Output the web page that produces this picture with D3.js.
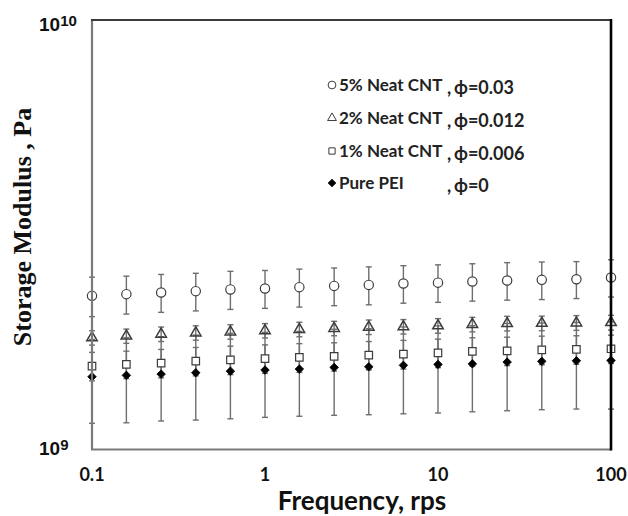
<!DOCTYPE html>
<html>
<head>
<meta charset="utf-8">
<script src="https://cdn.jsdelivr.net/npm/d3@7"></script>
<style>
  body { margin: 0; background: #fff; }
  svg { display: block; }
</style>
</head>
<body>
<svg id="chart" width="628" height="516"></svg>
<script>
// frequency (rps) and storage modulus, in units of 1e9 Pa
var freq = [0.1, 0.158, 0.251, 0.398, 0.631, 1, 1.58, 2.51, 3.98, 6.31, 10, 15.8, 25.1, 39.8, 63.1, 100];

var cnt5 = [2.279, 2.300, 2.321, 2.337, 2.359, 2.371, 2.388, 2.404, 2.417, 2.435, 2.446, 2.461, 2.475, 2.483, 2.492, 2.515];
var cnt5Err = [0.240, 0.233, 0.235, 0.235, 0.240, 0.240, 0.242, 0.242, 0.245, 0.244, 0.245, 0.246, 0.248, 0.249, 0.246, 0.250];

var cnt2 = [1.820, 1.837, 1.856, 1.869, 1.879, 1.891, 1.904, 1.914, 1.927, 1.932, 1.941, 1.955, 1.965, 1.967, 1.972, 1.975];
var cnt2Err = [0.070, 0.070, 0.072, 0.072, 0.073, 0.073, 0.074, 0.074, 0.075, 0.075, 0.076, 0.076, 0.077, 0.077, 0.078, 0.078];

var cnt1 = [1.564, 1.578, 1.589, 1.606, 1.617, 1.628, 1.638, 1.647, 1.658, 1.667, 1.679, 1.692, 1.697, 1.706, 1.710, 1.716];
var cnt1Err = [0.119, 0.116, 0.121, 0.122, 0.123, 0.124, 0.126, 0.125, 0.126, 0.128, 0.128, 0.128, 0.129, 0.130, 0.130, 0.130];

var pei = [1.477, 1.488, 1.498, 1.509, 1.522, 1.531, 1.539, 1.553, 1.558, 1.570, 1.578, 1.583, 1.598, 1.604, 1.609, 1.612];
var peiErr = [0.326, 0.334, 0.333, 0.338, 0.343, 0.343, 0.344, 0.352, 0.353, 0.359, 0.362, 0.359, 0.367, 0.366, 0.367, 0.370];

var seriesNames = ["5% Neat CNT", "2% Neat CNT", "1% Neat CNT", "Pure PEI"];
var phiValues = ["0.03", "0.012", "0.006", "0"];
var xTickVals = [0.1, 1, 10, 100];
var xTickText = ["0.1", "1", "10", "100"];

var svg = d3.select("#chart"),
  MARGINS = { top: 20, right: 17, bottom: 66.5, left: 92 },
  WIDTH = 628,
  HEIGHT = 516,
  xScale = d3.scaleLog().domain([0.1, 100]).range([MARGINS.left, WIDTH - MARGINS.right]),
  yScale = d3.scaleLog().domain([1e9, 1e10]).range([HEIGHT - MARGINS.bottom, MARGINS.top]);

var series = [
  { vals: cnt5, err: cnt5Err, shape: "circle" },
  { vals: cnt2, err: cnt2Err, shape: "triangle" },
  { vals: cnt1, err: cnt1Err, shape: "square" },
  { vals: pei, err: peiErr, shape: "diamond" }
];

function markerPath(shape, scale) {
  scale = scale || 1;
  if (shape === "circle") return d3.symbol().type(d3.symbolCircle).size(68 * scale)();
  if (shape === "triangle") return d3.symbol().type(d3.symbolTriangle).size(48 * scale)();
  if (shape === "square") return d3.symbol().type(d3.symbolSquare).size(56 * scale)();
  return d3.symbol().type(d3.symbolSquare).size(36 * scale)();
}

function styleMarker(sel, shape) {
  if (shape === "diamond") {
    sel.style("fill", "#000").style("stroke", "#000").style("stroke-width", 0.8);
  } else if (shape === "triangle") {
    sel.style("fill", "none").style("stroke", "#3c3c3c").style("stroke-width", 1.5);
  } else {
    sel.style("fill", "#fff").style("stroke", "#3c3c3c").style("stroke-width", 1.2);
  }
}

// error bars first, bottom series up
var bars = svg.append("g").attr("class", "errbars");
series.slice().reverse().forEach(function (s) {
  var pts = freq.map(function (f, i) {
    return { x: f, lo: (s.vals[i] - s.err[i]) * 1e9, hi: (s.vals[i] + s.err[i]) * 1e9 };
  });
  var g = bars.selectAll(null).data(pts).enter().append("g");
  g.append("line")
    .attr("x1", function (d) { return xScale(d.x); })
    .attr("x2", function (d) { return xScale(d.x); })
    .attr("y1", function (d) { return yScale(d.lo); })
    .attr("y2", function (d) { return yScale(d.hi); });
  ["lo", "hi"].forEach(function (k) {
    g.append("line")
      .attr("x1", function (d) { return xScale(d.x) - 3; })
      .attr("x2", function (d) { return xScale(d.x) + 3; })
      .attr("y1", function (d) { return yScale(d[k]); })
      .attr("y2", function (d) { return yScale(d[k]); });
  });
});
bars.selectAll("line").style("stroke", "#6e6e6e").style("stroke-width", 1.4);

// markers
series.forEach(function (s) {
  var m = svg.append("g").selectAll("path")
    .data(freq.map(function (f, i) { return { x: f, y: s.vals[i] * 1e9 }; }))
    .enter().append("path")
    .attr("d", markerPath(s.shape))
    .attr("transform", function (d) {
      return "translate(" + xScale(d.x) + "," + yScale(d.y) + ")" + (s.shape === "diamond" ? " rotate(45)" : "");
    });
  styleMarker(m, s.shape);
});

// frame
var x0 = xScale(0.1), x1 = xScale(100), y0 = yScale(1e9), y1 = yScale(1e10);
svg.append("line").attr("x1", x0).attr("x2", x0).attr("y1", y1).attr("y2", y0)
  .style("stroke", "#7a7a7a").style("stroke-width", 2.2);
svg.append("line").attr("x1", x0 - 1).attr("x2", x1).attr("y1", y0).attr("y2", y0)
  .style("stroke", "#7a7a7a").style("stroke-width", 2.2);
svg.append("line").attr("x1", x0 - 1).attr("x2", x1).attr("y1", y1).attr("y2", y1)
  .style("stroke", "#3a3a3a").style("stroke-width", 2);
svg.append("line").attr("x1", x1).attr("x2", x1).attr("y1", y1 - 1).attr("y2", y0 + 1)
  .style("stroke", "#000").style("stroke-width", 2.6);

// y tick labels (10^10, 10^9)
[[1e10, "10", "10", 11], [1e9, "10", "9", 5.5]].forEach(function (t) {
  var txt = svg.append("text")
    .attr("x", 39)
    .attr("y", yScale(t[0]) + t[3])
    .attr("font-family", "Liberation Sans, Arial, sans-serif")
    .attr("font-weight", "bold")
    .attr("font-size", 19)
    .attr("fill", "#111");
  txt.append("tspan").text(t[1]);
  txt.append("tspan").attr("dy", -5).attr("font-size", 15).text(t[2]);
});

// x tick labels
svg.selectAll(".xlab").data(xTickVals).enter().append("text")
  .attr("class", "xlab")
  .attr("x", function (d) { return xScale(d); })
  .attr("y", 481)
  .style("text-anchor", "middle")
  .style("font-family", "Lato, 'Open Sans', sans-serif")
  .style("font-weight", "bold")
  .style("font-size", "18px")
  .style("fill", "#111")
  .text(function (d, i) { return xTickText[i]; });

// axis titles
svg.append("text")
  .attr("x", 362)
  .attr("y", 510)
  .style("text-anchor", "middle")
  .style("font-family", "Lato, 'Open Sans', sans-serif")
  .style("font-weight", "bold")
  .style("font-size", "26px")
  .style("fill", "#111")
  .text("Frequency, rps");

svg.append("text")
  .attr("transform", "rotate(-90)")
  .attr("x", -227)
  .attr("y", 31)
  .style("text-anchor", "middle")
  .style("font-family", "'Liberation Serif', 'Times New Roman', serif")
  .style("font-weight", "bold")
  .style("font-size", "26px")
  .style("fill", "#111")
  .text("Storage Modulus , Pa");

// legend
var legendY = [85, 118, 151, 183];
seriesNames.forEach(function (name, i) {
  var s = series[i], ly = legendY[i];
  var mk = svg.append("path")
    .attr("d", markerPath(s.shape, 0.7))
    .attr("transform", "translate(332," + ly + ")" + (s.shape === "diamond" ? " rotate(45)" : ""));
  styleMarker(mk, s.shape);
  mk.style("stroke-width", 1);
  svg.append("text")
    .attr("x", 339).attr("y", ly + 6)
    .style("font-family", "Lato, 'Open Sans', sans-serif")
    .style("font-weight", "bold")
    .style("font-size", "17px")
    .style("fill", "#222")
    .text(name);
  var ph = svg.append("text")
    .attr("y", ly + 9)
    .style("font-family", "Lato, 'Open Sans', sans-serif")
    .style("font-weight", "bold")
    .style("font-size", "18px")
    .style("fill", "#222");
  ph.append("tspan").attr("x", 447).text(",");
  ph.append("tspan").attr("x", 454).text("\u03D5=" + phiValues[i]);
});
</script>
</body>
</html>
